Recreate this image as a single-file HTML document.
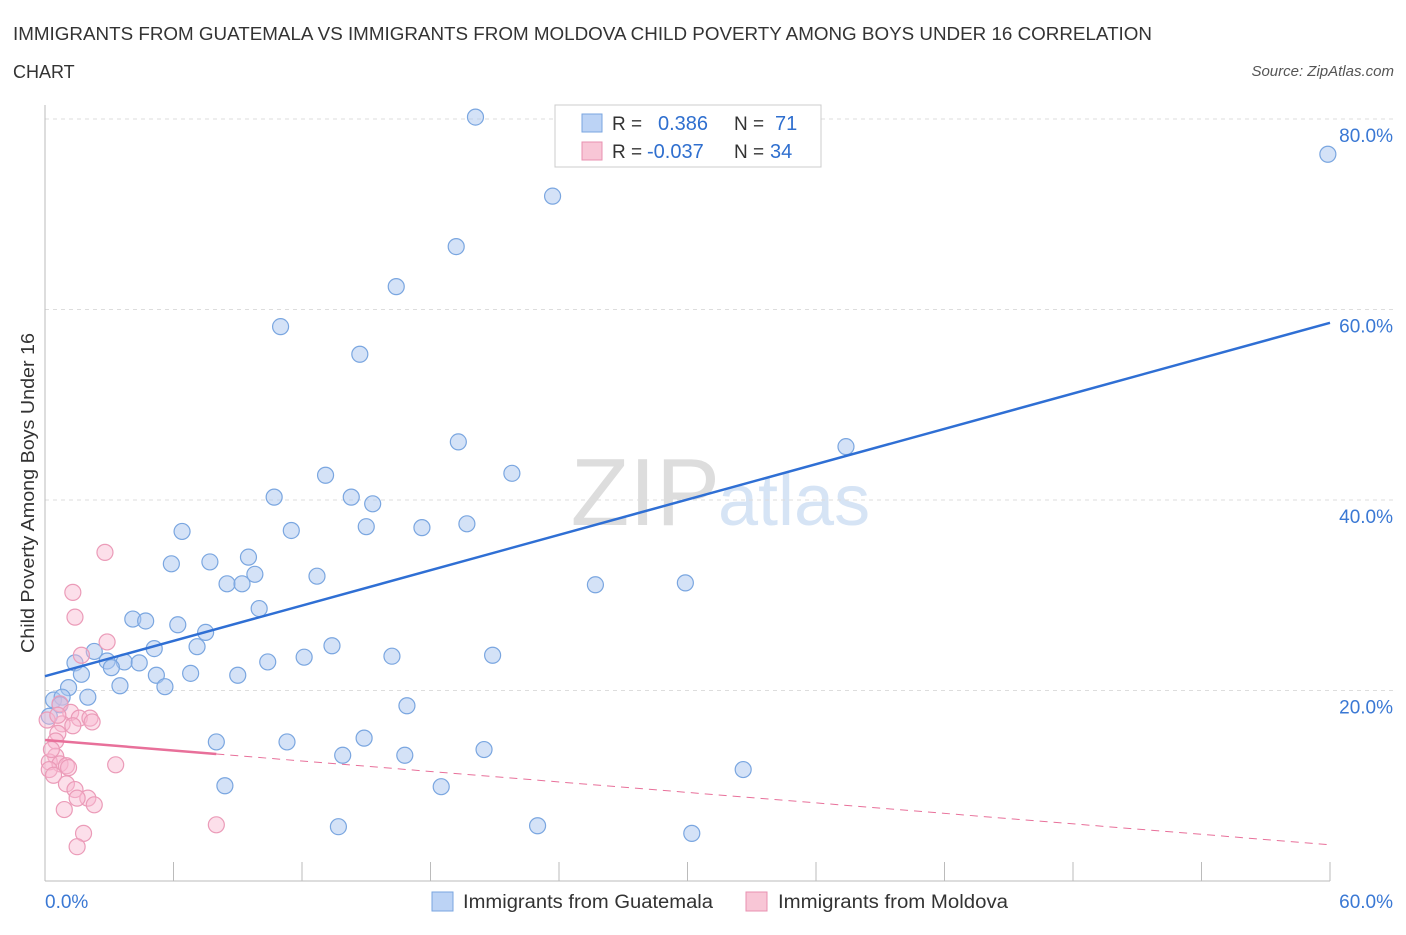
<!DOCTYPE html>
<html><head><meta charset="utf-8"><style>
body{margin:0;background:#fff;font-family:"Liberation Sans",sans-serif;}
svg text{font-family:"Liberation Sans",sans-serif;}
</style></head><body>
<svg width="1406" height="930" id="chart">
<text x="13" y="40" font-size="18" fill="#333" textLength="1139" lengthAdjust="spacingAndGlyphs">IMMIGRANTS FROM GUATEMALA VS IMMIGRANTS FROM MOLDOVA CHILD POVERTY AMONG BOYS UNDER 16 CORRELATION</text>
<text x="13" y="78" font-size="18" fill="#333">CHART</text>
<text x="1394" y="76" font-size="15" fill="#555" text-anchor="end" font-style="italic">Source: ZipAtlas.com</text>
<text x="720" y="525" font-size="96" fill="#ddd" text-anchor="end" font-family="Liberation Serif">ZIP</text>
<text x="718" y="525" font-size="72" fill="#d6e4f5">atlas</text>
<text transform="translate(34,493) rotate(-90)" font-size="18" fill="#333" text-anchor="middle" textLength="320" lengthAdjust="spacingAndGlyphs">Child Poverty Among Boys Under 16</text>
<g id="grid"></g><g id="marks"></g>
<g>
<rect x="555" y="105" width="266" height="62" fill="#fff" stroke="#ccc"/>
<rect x="582" y="114" width="20" height="18" fill="#bcd3f5" stroke="#7aa6e0"/>
<text x="612" y="130" font-size="19" fill="#333">R = </text><text x="658" y="130" font-size="20" fill="#2f6fcf">0.386</text>
<text x="734" y="130" font-size="19" fill="#333">N = </text><text x="775" y="130" font-size="20" fill="#2f6fcf">71</text>
<rect x="582" y="142" width="20" height="18" fill="#f8c6d6" stroke="#e890b0"/>
<text x="612" y="158" font-size="19" fill="#333">R = </text><text x="647" y="158" font-size="20" fill="#2f6fcf">-0.037</text>
<text x="734" y="158" font-size="19" fill="#333">N = </text><text x="770" y="158" font-size="20" fill="#2f6fcf">34</text>
</g>
<g>
<rect x="432" y="892" width="21" height="19" fill="#bcd3f5" stroke="#7aa6e0"/>
<text x="463" y="908" font-size="19" fill="#333" textLength="250" lengthAdjust="spacingAndGlyphs">Immigrants from Guatemala</text>
<rect x="746" y="892" width="21" height="19" fill="#f8c6d6" stroke="#e890b0"/>
<text x="778" y="908" font-size="19" fill="#333" textLength="230" lengthAdjust="spacingAndGlyphs">Immigrants from Moldova</text>
</g>
</svg>
<script>
const yTicks=[20,40,60,80];
const xTickLabels=["0.0%","60.0%"];
const blueX=[20.1,59.9,23.7,19.2,16.4,11.0,14.7,19.3,37.4,21.8,13.1,10.7,14.3,15.3,19.7,15.0,17.6,11.5,6.4,9.5,7.7,5.9,9.8,12.7,8.5,9.2,25.7,29.9,10.0,4.1,4.7,6.2,7.5,13.4,7.1,5.1,2.3,20.9,16.2,12.1,2.9,3.7,4.4,1.4,10.4,3.1,1.7,5.2,6.8,9.0,3.5,5.6,1.1,2.0,0.4,0.8,0.7,16.9,0.2,8.0,11.3,14.9,20.5,13.9,16.8,32.6,8.4,18.5,13.7,23.0,30.2];
const blueY=[80.2,76.3,71.9,66.6,62.4,58.2,55.3,46.1,45.6,42.8,42.6,40.3,40.3,39.6,37.5,37.2,37.1,36.8,36.7,34.0,33.5,33.3,32.2,32.0,31.2,31.2,31.1,31.3,28.6,27.5,27.3,26.9,26.1,24.7,24.6,24.4,24.1,23.7,23.6,23.5,23.1,23.0,22.9,22.9,23.0,22.4,21.7,21.6,21.8,21.6,20.5,20.4,20.3,19.3,19.0,19.3,18.5,18.4,17.3,14.6,14.6,15.0,13.8,13.2,13.2,11.7,10.0,9.9,5.7,5.8,5.0];
const pinkX=[2.8,1.3,1.4,2.9,1.7,0.7,1.2,1.6,2.1,2.2,0.8,1.3,0.6,0.5,0.5,0.2,0.7,1.0,3.3,0.2,0.4,1.1,1.0,1.4,2.0,1.5,2.3,0.9,8.0,1.8,1.5,0.1,0.3,0.6];
const pinkY=[34.5,30.3,27.7,25.1,23.7,18.6,17.7,17.1,17.1,16.7,16.5,16.3,15.5,14.7,13.1,12.5,12.3,12.1,12.2,11.7,11.1,11.9,10.2,9.6,8.7,8.7,8.0,7.5,5.9,5.0,3.6,16.9,13.8,17.4];
const blueTrend=[21.5,58.6];
const pinkTrend=[14.8,3.8];
const NS="http://www.w3.org/2000/svg";
const sx=v=>45+v*(1285/60), sy=v=>881-v*9.525;
function mk(t,a,p){const e=document.createElementNS(NS,t);for(const k in a)e.setAttribute(k,a[k]);p.appendChild(e);return e;}
const grid=document.getElementById('grid'),marks=document.getElementById('marks');
yTicks.forEach(t=>{const l=mk('line',{x1:45,x2:1395,y1:sy(t),y2:sy(t),stroke:'#ddd','stroke-dasharray':'4,4'},grid);


const tx=mk('text',{x:1393,y:sy(t)+23,'font-size':19,fill:'#3a78d4','text-anchor':'end'},grid);tx.textContent=t.toFixed(1)+'%';

});
const ax=mk('line',{x1:45,x2:1330,y1:881,y2:881,stroke:'#bbb'},grid);


const ay=mk('line',{x1:45,x2:45,y1:105,y2:881,stroke:'#bbb'},grid);


for(let i=0;i<=10;i++){const t=mk('line',{x1:sx(i*6),x2:sx(i*6),y1:862,y2:881,stroke:'#bbb'},grid);

}
[[0,'start',45],[60,'end',1393]].forEach((d,i)=>{const t=mk('text',{x:d[2],y:908,'font-size':19,fill:'#3a78d4','text-anchor':d[1]},grid);t.textContent=xTickLabels[i];

});
blueX.forEach((x,i)=>{const c=mk('circle',{cx:sx(x),cy:sy(blueY[i]),r:8,fill:'rgba(170,198,240,0.5)',stroke:'#7aa6e0','stroke-width':1.2},marks);

});
pinkX.forEach((x,i)=>{const c=mk('circle',{cx:sx(x),cy:sy(pinkY[i]),r:8,fill:'rgba(248,185,208,0.45)',stroke:'#eb9bb8','stroke-width':1.2},marks);

});
const bl=mk('line',{x1:sx(0),y1:sy(blueTrend[0]),x2:sx(60),y2:sy(blueTrend[1]),stroke:'#2f6fd4','stroke-width':2.5},marks);


const py=x=>pinkTrend[0]+(pinkTrend[1]-pinkTrend[0])*x/60;
const pl=mk('line',{x1:sx(0),y1:sy(py(0)),x2:sx(8),y2:sy(py(8)),stroke:'#e8709a','stroke-width':2.5},marks);


const pd=mk('line',{x1:sx(8),y1:sy(py(8)),x2:sx(60),y2:sy(py(60)),stroke:'#e8709a','stroke-width':1,'stroke-dasharray':'8,6'},marks);


</script>
</body></html>
